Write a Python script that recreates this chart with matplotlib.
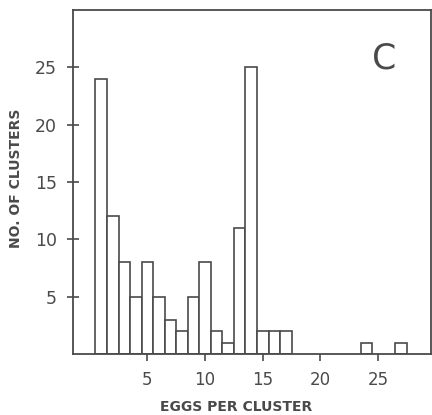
import matplotlib.pyplot as plt

eggs = [1, 2, 3, 4, 5, 6, 7, 8, 9, 10, 11, 12, 13, 14, 15, 16, 17, 24, 27]
clusters = [24, 12, 8, 5, 8, 5, 3, 2, 5, 8, 2, 1, 11, 25, 2, 2, 2, 1, 1]
xticks = [5, 10, 15, 20, 25]
yticks = [5, 10, 15, 20, 25]

ink = '#4a4a4a'
plt.rcParams['font.family'] = 'DejaVu Sans'

fig = plt.figure(figsize=(4.32, 4.15), dpi=100)
ax = fig.add_axes([0.169, 0.147, 0.829, 0.829])

ax.bar(eggs, clusters, width=1.0, facecolor='white', edgecolor=ink, linewidth=1.2)

ax.set_xlim(-1.45, 29.6)
ax.set_ylim(0, 30)
ax.set_xticks(xticks)
ax.set_yticks(yticks)
ax.tick_params(axis='x', direction='out', length=5, width=1.2, color=ink,
               labelcolor=ink, labelsize=12, pad=7)
ax.tick_params(axis='y', direction='inout', length=9, width=1.2, color=ink,
               labelcolor=ink, labelsize=12.5, pad=7)
for s in ax.spines.values():
  s.set_color(ink)
  s.set_linewidth(1.3)

ax.set_xlabel('EGGS PER CLUSTER', fontsize=10, fontweight='bold', color=ink)
ax.xaxis.set_label_coords(0.455, -0.135)
ax.set_ylabel('NO. OF CLUSTERS', fontsize=10, fontweight='bold', color=ink)
ax.yaxis.set_label_coords(-0.14, 0.51)
ax.text(25.5, 25.8, 'C', fontsize=25, color=ink, ha='center', va='center',
        family=['Liberation Sans Narrow', 'DejaVu Sans'])

fig.savefig('out.png', dpi=100)
